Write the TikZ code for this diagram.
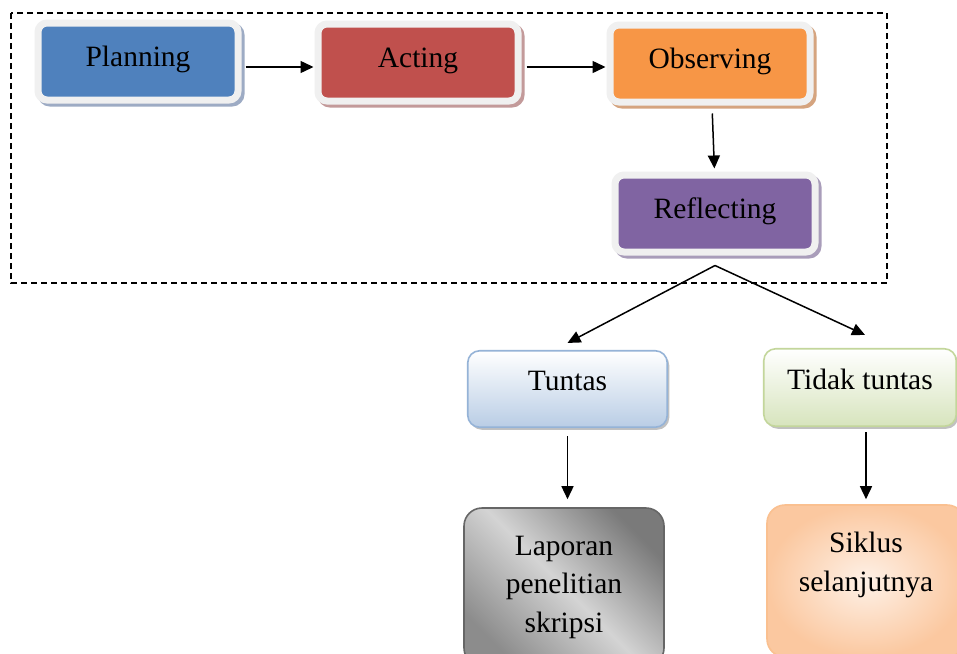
\documentclass[tikz,border=0pt]{standalone}
\usepackage{fontspec}
\setmainfont{Liberation Serif}
\usetikzlibrary{shadows,arrows.meta,calc}
\definecolor{framec}{HTML}{F0F0F0}
\definecolor{cplan}{HTML}{4F81BD}
\definecolor{splan}{HTML}{9DABC4}
\definecolor{cact}{HTML}{C0504D}
\definecolor{sact}{HTML}{C39A9A}
\definecolor{cobs}{HTML}{F79646}
\definecolor{sobs}{HTML}{D5A47F}
\definecolor{cref}{HTML}{8064A2}
\definecolor{sref}{HTML}{A99DBA}
\definecolor{tunb}{HTML}{95B3D7}
\definecolor{tunf}{HTML}{B9CDE5}
\definecolor{tidb}{HTML}{C3D69B}
\definecolor{tidf}{HTML}{D7E4BD}
\definecolor{sikb}{HTML}{FAC090}
\definecolor{siki}{HTML}{FEF1E7}
\definecolor{siko}{HTML}{FBC8A0}
\tikzset{
  txt/.style={font=\fontsize{29.5}{38.5}\selectfont},
  topbox/.style 2 args={txt, draw=framec, line width=7pt, fill=#1,
    rounded corners=9pt, minimum width=200pt, minimum height=77pt,
    inner sep=0pt, text height=20pt, text depth=11pt,
    drop shadow={shadow xshift=3pt, shadow yshift=-3pt, fill=#2,
      draw=#2, line width=7pt, opacity=1}},
  midbox/.style 2 args={txt, draw=#1, line width=1.6pt,
    top color=white, bottom color=#2, rounded corners=12pt,
    inner sep=0pt, text height=20pt, text depth=17pt,
    drop shadow={shadow xshift=2pt, shadow yshift=-2.5pt,
      fill=black!40, opacity=0.6}},
  arr/.style={line width=1.5pt, -{Triangle[length=13pt,width=12pt]}},
  dashframe/.style={line width=1.3pt, dash pattern=on 6pt off 4pt},
}
\begin{document}
\begin{tikzpicture}[x=1pt,y=1pt]
\useasboundingbox (0,0) rectangle (957,-653);
\clip (0,0) rectangle (957,-653);
\fill[white] (0,0) rectangle (957,-653);

\draw[dashframe] (11,-13) rectangle (887,-283);

\node[topbox={cplan}{splan}] (planning) at (138,-61.5) {Planning};
\node[topbox={cact}{sact}] (acting) at (418,-62.5) {Acting};
\node[topbox={cobs}{sobs}] (observing) at (710,-63.5) {Observing};
\node[topbox={cref}{sref}] (reflecting) at (715,-213.5) {Reflecting};

\node[midbox={tunb}{tunf}, minimum width=199.5pt, minimum height=76.5pt]
  (tuntas) at (567.5,-389) {Tuntas};
\node[midbox={tidb}{tidf}, minimum width=192.5pt, minimum height=77.5pt]
  (tidak) at (860,-387.5) {Tidak tuntas};

\node[txt, align=center, draw=black!60, line width=1.6pt, rounded corners=18pt,
  top color=black!52, bottom color=black!45,
  middle color=black!17, shading angle=-45, minimum width=200pt, minimum height=158pt, inner sep=0pt]
  (laporan) at (564,-587) {Laporan\\penelitian\\skripsi};
\node[txt, align=center, draw=sikb, line width=1.6pt, rounded corners=18pt,
  inner color=siki, outer color=siko, minimum width=198pt,
  minimum height=152pt, inner sep=0pt]
  (siklus) at (866,-581) {Siklus\\selanjutnya\\\mbox{}};

\coordinate (split) at ([yshift=-10pt]reflecting.south);
\coordinate (pa) at ([yshift=-5.5pt]planning.east);
\coordinate (ao) at ([yshift=-4.5pt]acting.east);

\draw[arr, shorten <=4pt, shorten >=1pt] (pa) -- (pa -| acting.west);
\draw[arr, shorten <=5pt, shorten >=1pt] (ao) -- (ao -| observing.west);
\draw[arr, shorten <=8pt, shorten >=3pt] ([xshift=2pt]observing.south) -- ([xshift=-0.5pt]reflecting.north);
\draw[arr] (split) -- ([yshift=7pt]tuntas.north);
\draw[arr] (split) -- ([xshift=5pt,yshift=13pt]tidak.north);
\draw[arr, shorten <=8pt, shorten >=8pt] (tuntas.south) -- (tuntas.south |- laporan.north);
\draw[arr, shorten <=5pt, shorten >=5pt] (siklus.north |- tidak.south) -- (siklus.north);
\end{tikzpicture}
\end{document}
